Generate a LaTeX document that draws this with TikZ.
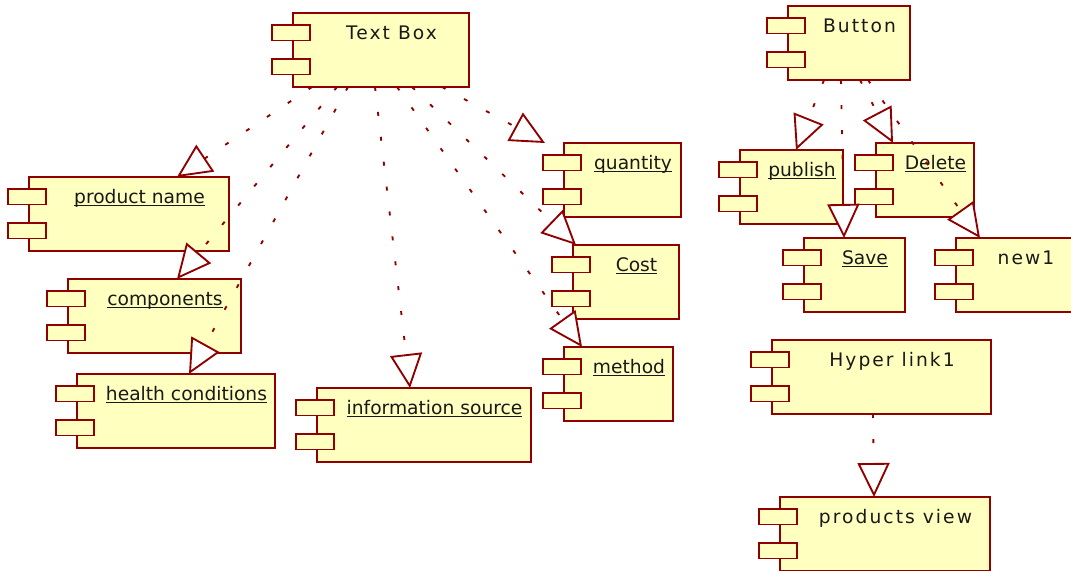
\documentclass[tikz,border=0pt]{standalone}
\usepackage{fontspec}
\setmainfont{DejaVu Sans}
\newfontfamily\spacedfont[LetterSpace=11]{DejaVu Sans}
\usepackage{tikz}
\usetikzlibrary{arrows.meta,calc}
\definecolor{RoseRed}{HTML}{900000}
\definecolor{RoseFill}{HTML}{FFFFC0}
\newcommand\ulbl[1]{\setbox0\hbox{#1}\rlap{\rule[-2.6pt]{\wd0}{1.1pt}}\box0}
\tikzset{
  uml/comp/.style={draw=RoseRed, fill=RoseFill, line width=1.4pt, inner sep=0pt, outer sep=0pt, anchor=north west, minimum height=55.5pt},
  uml/tab/.style={draw=RoseRed, fill=RoseFill, line width=1.4pt},
  uml/label/.style={inner sep=0pt, anchor=base, text=black!90, font=\fontsize{14}{16}\selectfont},
  uml/real/.style={draw=RoseRed, line width=1.4pt, dash pattern=on 3pt off 15.8pt, -{Triangle[length=25.5pt, width=24pt, fill=white]}}
}
% component box: name, left, top, width, label
\newcommand\umlcomp[5]{%
  \node[uml/comp, minimum width=#4*0.75pt] (#1) at (#2,#3) {};
  \draw[uml/tab] ($(#1.north west)+(-21,12)$) rectangle ++(38,15.5);
  \draw[uml/tab] ($(#1.north west)+(-21,46)$) rectangle ++(38,15.5);
  \node[uml/label] (#1-name) at ($(#1.north west)+({(#4+17)/2+2},26)$) {#5};
}

\begin{document}
\begin{tikzpicture}[x=0.75pt, y=-0.75pt]
\useasboundingbox (0,0) rectangle (1071,571);
\clip (0,0) rectangle (1071,571);
% text box group
\umlcomp{textbox}{293}{13}{176}{\spacedfont Text Box}
\umlcomp{prodname}{29}{177}{200}{\ulbl{product name}}
\umlcomp{components}{68}{279}{173}{\ulbl{components}}
\umlcomp{health}{77}{374}{198}{\ulbl{health conditions}}
\umlcomp{infosrc}{317}{388}{214}{\ulbl{information source}}
\umlcomp{quantity}{564}{143}{117}{\ulbl{quantity}}
\umlcomp{cost}{573}{245}{106}{\ulbl{Cost}}
\umlcomp{method}{564}{347}{109}{\ulbl{method}}
% button group
\umlcomp{button}{788}{6}{122}{\spacedfont Button}
\umlcomp{publish}{740}{150}{103}{\ulbl{publish}}
\umlcomp{delete}{876}{143}{98}{\ulbl{Delete}}
\umlcomp{save}{804}{238}{101}{\ulbl{Save}}
\umlcomp{new1}{956}{238}{119}{\spacedfont new1}
% hyper link group
\umlcomp{hyperlink}{772}{340}{219}{\spacedfont Hyper link1}
\umlcomp{prodview}{780}{497}{210}{\spacedfont products view}

\draw[uml/real] ($(textbox.south west)+(19,0)$) -- ($(prodname.north west)+(148,0)$);
\draw[uml/real] ($(textbox.south west)+(44,0)$) -- ($(components.north west)+(109,0)$);
\draw[uml/real] ($(textbox.south west)+(55,0)$) -- ($(health.north west)+(112,0)$);
\draw[uml/real] ($(textbox.south west)+(82,0)$) -- ($(infosrc.north west)+(93,0)$);
\draw[uml/real] ($(textbox.south west)+(104,0)$) -- ($(method.north west)+(18,0)$);
\draw[uml/real] ($(textbox.south west)+(119,0)$) -- ($(cost.north west)+(3,0)$);
\draw[uml/real] ($(textbox.south west)+(149,0)$) -- ($(quantity.north west)+(-19,0)$);
\draw[uml/real] ($(button.south west)+(36,0)$) -- ($(publish.north west)+(56,0)$);
\draw[uml/real] ($(button.south west)+(53,0)$) -- ($(save.north west)+(40,0)$);
\draw[uml/real] ($(button.south west)+(72,0)$) -- ($(delete.north west)+(17,0)$);
\draw[uml/real] ($(button.south west)+(80,0)$) -- ($(new1.north west)+(24,0)$);
\draw[uml/real] ($(hyperlink.south west)+(101,0)$) -- ($(prodview.north west)+(94,0)$);
\end{tikzpicture}
\end{document}
